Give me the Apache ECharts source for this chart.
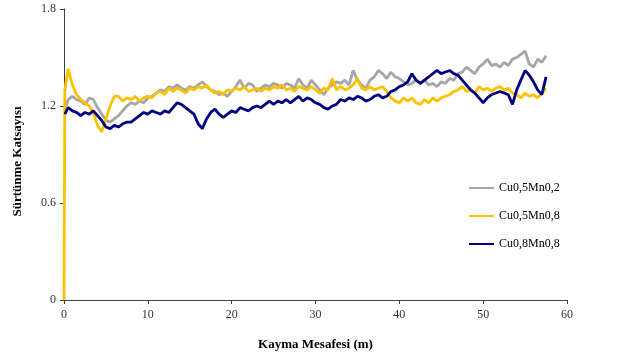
<!DOCTYPE html>
<html><head><meta charset="utf-8">
<script src="https://cdn.jsdelivr.net/npm/echarts@6/dist/echarts.min.js"></script>
<style>html,body{margin:0;padding:0;background:#fff}#c{width:624px;height:358px}</style>
</head><body><div id="c"></div>
<script>
var distance = [0,0.1,0.5,1,1.5,2,2.5,3,3.5,4,4.5,5,5.5,6,6.5,7,7.5,8,8.5,9,9.5,10,10.5,11,11.5,12,12.5,13,13.5,14,14.5,15,15.5,16,16.5,17,17.5,18,18.5,19,19.5,20,20.5,21,21.5,22,22.5,23,23.5,24,24.5,25,25.5,26,26.5,27,27.5,28,28.5,29,29.5,30,30.5,31,31.5,32,32.5,33,33.5,34,34.5,35,35.5,36,36.5,37,37.5,38,38.5,39,39.5,40,40.5,41,41.5,42,42.5,43,43.5,44,44.5,45,45.5,46,46.5,47,47.5,48,48.5,49,49.5,50,50.5,51,51.5,52,52.5,53,53.5,54,54.5,55,55.5,56,56.5,57,57.5];
var seriesNames = ['Cu0,5Mn0,2','Cu0,5Mn0,8','Cu0,8Mn0,8'];
var cu05mn02 = [null,1.18,1.24,1.26,1.24,1.23,1.21,1.25,1.24,1.19,1.15,1.11,1.10,1.12,1.14,1.17,1.20,1.22,1.21,1.23,1.22,1.25,1.26,1.28,1.30,1.29,1.32,1.31,1.33,1.31,1.30,1.32,1.31,1.33,1.35,1.32,1.30,1.29,1.27,1.28,1.26,1.29,1.32,1.36,1.31,1.34,1.33,1.29,1.31,1.33,1.32,1.34,1.33,1.31,1.34,1.33,1.31,1.37,1.33,1.31,1.36,1.33,1.30,1.27,1.31,1.33,1.35,1.34,1.36,1.33,1.42,1.36,1.33,1.31,1.36,1.38,1.42,1.40,1.37,1.41,1.38,1.37,1.35,1.33,1.34,1.36,1.34,1.36,1.33,1.34,1.32,1.35,1.34,1.37,1.36,1.40,1.41,1.44,1.42,1.40,1.44,1.46,1.49,1.45,1.46,1.44,1.47,1.45,1.49,1.50,1.52,1.54,1.46,1.44,1.49,1.47,1.51];
var cu05mn08 = [0,1.30,1.43,1.33,1.27,1.24,1.22,1.20,1.16,1.08,1.04,1.12,1.20,1.26,1.26,1.23,1.25,1.24,1.26,1.23,1.25,1.26,1.25,1.28,1.29,1.27,1.31,1.29,1.31,1.30,1.28,1.31,1.30,1.32,1.31,1.33,1.30,1.28,1.29,1.27,1.30,1.29,1.31,1.30,1.32,1.29,1.30,1.31,1.29,1.31,1.30,1.32,1.31,1.33,1.30,1.31,1.29,1.32,1.31,1.30,1.32,1.30,1.28,1.31,1.30,1.37,1.30,1.32,1.30,1.31,1.33,1.37,1.31,1.30,1.32,1.30,1.31,1.32,1.29,1.25,1.23,1.22,1.25,1.23,1.25,1.22,1.21,1.24,1.22,1.25,1.23,1.25,1.26,1.27,1.29,1.30,1.32,1.29,1.30,1.28,1.32,1.30,1.31,1.29,1.31,1.32,1.30,1.31,1.28,1.27,1.25,1.28,1.26,1.27,1.25,1.28,1.31];
var cu08mn08 = [null,1.15,1.19,1.17,1.16,1.14,1.16,1.15,1.17,1.14,1.11,1.07,1.06,1.08,1.07,1.09,1.10,1.10,1.12,1.14,1.16,1.15,1.17,1.16,1.15,1.17,1.16,1.19,1.22,1.21,1.19,1.17,1.15,1.09,1.06,1.12,1.16,1.18,1.15,1.13,1.15,1.17,1.16,1.19,1.18,1.17,1.19,1.20,1.19,1.21,1.23,1.21,1.23,1.22,1.24,1.22,1.24,1.26,1.23,1.25,1.24,1.22,1.21,1.19,1.18,1.20,1.21,1.24,1.23,1.25,1.24,1.26,1.25,1.23,1.24,1.26,1.27,1.25,1.26,1.29,1.30,1.32,1.33,1.35,1.40,1.36,1.34,1.36,1.38,1.40,1.42,1.40,1.41,1.42,1.40,1.39,1.36,1.33,1.30,1.28,1.25,1.22,1.25,1.27,1.28,1.29,1.28,1.27,1.21,1.30,1.36,1.42,1.39,1.35,1.30,1.27,1.38];
var colors = ['#A6A6A6','#FFC000','#000080'];
var xTicks = [0,10,20,30,40,50,60];
var yTicks = [0,0.6,1.2,1.8];

function pairs(v){ return distance.map(function(d,i){ return [d, v[i]]; }); }
var all = [cu05mn02, cu05mn08, cu08mn08];
var font = '"Liberation Serif", "Times New Roman", serif';
var chart = echarts.init(document.getElementById('c'), null, {renderer:'canvas'});
chart.setOption({
  animation:false,
  backgroundColor:'#fff',
  grid:{left:64,right:57,top:9,bottom:58,containLabel:false},
  legend:{
    orient:'vertical', left:464, top:177, itemWidth:25, itemHeight:2, itemGap:16,
    data:seriesNames.map(function(n,i){return {name:n, icon:'rect', itemStyle:{color:colors[i]}};}),
    textStyle:{fontFamily:font, fontSize:12, color:'#000'},
    itemStyle:{borderWidth:0}
  },
  xAxis:{
    type:'value', min:xTicks[0], max:xTicks[xTicks.length-1], interval:10,
    name:'Kayma Mesafesi (m)', nameLocation:'middle', nameGap:38,
    nameTextStyle:{fontFamily:font, fontSize:13, fontWeight:'bold', color:'#000'},
    axisLine:{lineStyle:{color:'#404040', width:1}},
    axisTick:{show:true, inside:false, length:4, lineStyle:{color:'#404040'}},
    axisLabel:{fontFamily:font, fontSize:12, color:'#333', margin:9},
    splitLine:{show:false}
  },
  yAxis:{
    type:'value', min:yTicks[0], max:yTicks[yTicks.length-1], interval:0.6,
    name:'Sürtünme Katsayısı', nameLocation:'middle', nameGap:40,
    nameTextStyle:{fontFamily:font, fontSize:13, fontWeight:'bold', color:'#000', padding:[0,0,0,-14]},
    axisLine:{show:true, lineStyle:{color:'#404040', width:1}},
    axisTick:{show:true, inside:false, length:4, lineStyle:{color:'#404040'}},
    axisLabel:{fontFamily:font, fontSize:12, color:'#333', margin:8},
    splitLine:{show:false}
  },
  series:all.map(function(v,i){
    return {name:seriesNames[i], type:'line', data:pairs(v), showSymbol:false, symbol:'none',
      connectNulls:false, color:colors[i], lineStyle:{color:colors[i], width:2.8}, z:[1,2,3][i]};
  })
});
</script></body></html>
